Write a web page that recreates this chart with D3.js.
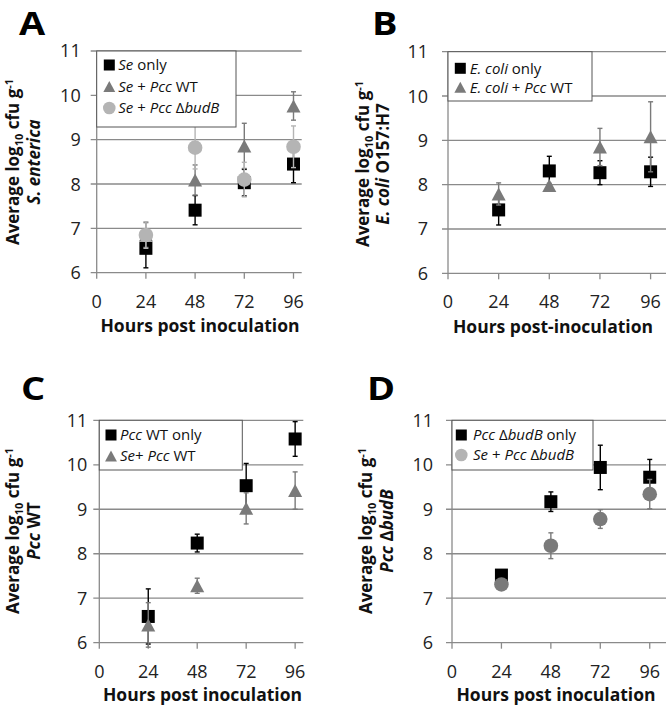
<!DOCTYPE html>
<html><head><meta charset="utf-8">
<script src="https://cdn.jsdelivr.net/npm/d3@7"></script>
<style>body{margin:0;background:#fff} svg{display:block} text{font-family:'Open Sans',sans-serif}</style>
</head><body><svg id="c" width="666" height="710"></svg>
<script>
// ---------- data ----------
const hours = [24, 48, 72, 96];
const xTicks = [0, 24, 48, 72, 96];
const yTicks = [6, 7, 8, 9, 10, 11];

// Panel A – S. enterica
const aSeOnly = [6.55, 7.41, 8.03, 8.45];
const aSeOnlyErr = [0.44, 0.33, 0.30, 0.42];
const aSePccWT = [6.85, 8.09, 8.86, 9.76];
const aSePccWTErr = [0.28, 0.34, 0.51, 0.32];
const aSePccBudB = [6.85, 8.82, 8.10, 8.84];
const aSePccBudBErr = [0.30, 0.48, 0.39, 0.47];
// Panel B – E. coli O157:H7
const bEcoliOnly = [7.43, 8.31, 8.27, 8.29];
const bEcoliOnlyErr = [0.34, 0.33, 0.27, 0.33];
const bEcoliPccWT = [7.79, 7.98, 8.85, 9.08];
const bEcoliPccWTErr = [0.25, 0.05, 0.42, 0.79];
// Panel C – Pcc WT
const cPccWTOnly = [6.59, 8.24, 9.53, 10.58];
const cPccWTOnlyErr = [0.62, 0.20, 0.50, 0.39];
const cSePccWT = [6.40, 7.28, 9.02, 9.42];
const cSePccWTErr = [0.50, 0.17, 0.35, 0.42];
// Panel D – Pcc ΔbudB
const dPccBudBOnly = [7.52, 9.17, 9.94, 9.72];
const dPccBudBOnlyErr = [0.05, 0.22, 0.50, 0.40];
const dSePccBudB = [7.31, 8.18, 8.78, 9.34];
const dSePccBudBErr = [0.05, 0.29, 0.21, 0.33];

// labels: [text, italic]
const aLegend = [[["Se", 1], [" only", 0]], [["Se", 1], [" + ", 0], ["Pcc", 1], [" WT", 0]], [["Se", 1], [" + ", 0], ["Pcc", 1], [" Δ", 0], ["budB", 1]]];
const bLegend = [[["E. coli", 1], [" only", 0]], [["E. coli", 1], [" + ", 0], ["Pcc", 1], [" WT", 0]]];
const cLegend = [[["Pcc", 1], [" WT only", 0]], [["Se", 1], ["+ ", 0], ["Pcc", 1], [" WT", 0]]];
const dLegend = [[["Pcc", 1], [" Δ", 0], ["budB", 1], [" only", 0]], [["Se", 1], [" + ", 0], ["Pcc", 1], [" Δ", 0], ["budB", 1]]];
const aYSub = [["S. enterica", 1]];
const bYSub = [["E. coli", 1], [" O157:H7", 0]];
const cYSub = [["Pcc", 1], [" WT", 0]];
const dYSub = [["Pcc", 1], [" Δ", 0], ["budB", 1]];

// ---------- style ----------
const BLACK = "#000", DARK = "#7a7a7a", LIGHT = "#b4b4b4", GRID = "#8a8a8a";

const panels = [
  {letter: "A", lx: 19, ly: 35, left: 96.7, xmax: 100, right: 301.7, top: 51, bottom: 272.7, tickOff: 16,
   yTitleX: 19, yTitle2X: 40, yTitleY: 162, xTitle: "Hours post inoculation", xTitleX: 200, xTitleY: 332,
   legend: {x: 96.7, y: 51, w: 139.3, h: 76, mx: 109.3, tx: 118.3, rows: [65, 86.5, 108], items: aLegend, marks: [["sq", BLACK], ["tri", DARK], ["circ", LIGHT]]},
   ysub: aYSub,
   series: [{v: aSeOnly, e: aSeOnlyErr, m: "sq", c: BLACK}, {v: aSePccWT, e: aSePccWTErr, m: "tri", c: DARK}, {v: aSePccBudB, e: aSePccBudBErr, m: "circ", c: LIGHT}]},
  {letter: "B", lx: 372, ly: 35, left: 448, xmax: 103.3, right: 666, top: 51.7, bottom: 273.3, tickOff: 20,
   yTitleX: 369, yTitle2X: 389, yTitleY: 164, xTitle: "Hours post-inoculation", xTitleX: 553, xTitleY: 333,
   legend: {x: 448, y: 51.7, w: 144, h: 49.3, mx: 460.3, tx: 469.7, rows: [68.3, 87.3], items: bLegend, marks: [["sq", BLACK], ["tri", DARK]]},
   ysub: bYSub,
   series: [{v: bEcoliOnly, e: bEcoliOnlyErr, m: "sq", c: BLACK}, {v: bEcoliPccWT, e: bEcoliPccWTErr, m: "tri", c: DARK}]},
  {letter: "C", lx: 21, ly: 400, left: 99.3, xmax: 100, right: 303.3, top: 420.3, bottom: 642.7, tickOff: 12,
   yTitleX: 19, yTitle2X: 40, yTitleY: 531, xTitle: "Hours post inoculation", xTitleX: 202.5, xTitleY: 701,
   legend: {x: 99.3, y: 420.3, w: 143, h: 49.7, mx: 111, tx: 120, rows: [435, 456], items: cLegend, marks: [["sq", BLACK], ["tri", DARK]]},
   ysub: cYSub,
   series: [{v: cPccWTOnly, e: cPccWTOnlyErr, m: "sq", c: BLACK}, {v: cSePccWT, e: cSePccWTErr, m: "tri", c: DARK}]},
  {letter: "D", lx: 367, ly: 400, left: 452, xmax: 103.9, right: 666, top: 420.3, bottom: 642.7, tickOff: 19,
   yTitleX: 372, yTitle2X: 393, yTitleY: 531, xTitle: "Hours post inoculation", xTitleX: 556, xTitleY: 701,
   legend: {x: 452, y: 420.3, w: 141, h: 49.7, mx: 461.3, tx: 473, rows: [435, 455], items: dLegend, marks: [["sq", BLACK], ["circ", LIGHT]]},
   ysub: dYSub,
   series: [{v: dPccBudBOnly, e: dPccBudBOnlyErr, m: "sq", c: BLACK}, {v: dSePccBudB, e: dSePccBudBErr, m: "circ", c: DARK}]}
];

const svg = d3.select("#c");

function marker(g, type, cx, cy, size, color) {
  if (type === "sq") {
    g.append("rect").attr("x", cx - size / 2).attr("y", cy - size / 2).attr("width", size).attr("height", size).attr("fill", color);
  } else if (type === "tri") {
    const w = size * 1.08, h = size;
    g.append("path").attr("d", `M${cx},${cy - h / 2}L${cx + w / 2},${cy + h / 2}L${cx - w / 2},${cy + h / 2}Z`).attr("fill", color);
  } else {
    g.append("circle").attr("cx", cx).attr("cy", cy).attr("r", size / 2 + 0.8).attr("fill", color);
  }
}

function richText(t, parts) {
  parts.forEach(([s, it]) => t.append("tspan").text(s).attr("font-style", it ? "italic" : "normal"));
}

panels.forEach(p => {
  const g = svg.append("g");
  const x = d3.scaleLinear().domain([0, p.xmax]).range([p.left, p.right]);
  const y = d3.scaleLinear().domain([6, 11]).range([p.bottom, p.top]);

  // gridlines + y ticks
  g.append("g").selectAll("line").data(yTicks).join("line")
    .attr("x1", p.left - 6).attr("x2", p.right).attr("y1", d => y(d)).attr("y2", d => y(d))
    .attr("stroke", GRID).attr("stroke-width", 1.3);
  // y axis line
  g.append("line").attr("x1", p.left).attr("x2", p.left).attr("y1", p.top).attr("y2", p.bottom)
    .attr("stroke", GRID).attr("stroke-width", 1.3);
  // x ticks
  g.append("g").selectAll("line").data(xTicks).join("line")
    .attr("x1", d => x(d)).attr("x2", d => x(d)).attr("y1", p.bottom).attr("y2", p.bottom + 6)
    .attr("stroke", GRID).attr("stroke-width", 1.3);
  // y tick labels
  g.append("g").selectAll("text").data(yTicks).join("text")
    .attr("x", p.left - p.tickOff).attr("y", d => y(d)).attr("dy", "0.36em")
    .attr("text-anchor", "end").attr("font-size", 18).attr("fill", "#222").text(d => d);
  // x tick labels
  g.append("g").selectAll("text").data(xTicks).join("text")
    .attr("x", d => x(d)).attr("y", p.bottom + 35)
    .attr("text-anchor", "middle").attr("font-size", 18).attr("fill", "#222").text(d => d);
  // x title
  g.append("text").attr("x", p.xTitleX).attr("y", p.xTitleY).attr("text-anchor", "middle")
    .attr("font-size", 17.5).attr("font-weight", "bold").attr("fill", "#111").text(p.xTitle);
  // y title
  const yt = g.append("text").attr("transform", `translate(${p.yTitleX},${p.yTitleY}) rotate(-90)`)
    .attr("text-anchor", "middle").attr("font-size", 17).attr("font-weight", "bold").attr("fill", "#111");
  yt.append("tspan").text("Average log");
  yt.append("tspan").text("10").attr("font-size", 11).attr("dy", 4);
  yt.append("tspan").text(" cfu g").attr("dy", -4);
  yt.append("tspan").text("-1").attr("font-size", 11).attr("dy", -6);
  const yt2 = g.append("text").attr("transform", `translate(${p.yTitle2X},${p.yTitleY}) rotate(-90)`)
    .attr("text-anchor", "middle").attr("font-size", 17).attr("font-weight", "bold").attr("fill", "#111");
  richText(yt2, p.ysub);
  // panel letter
  g.append("text").attr("transform", `translate(${p.lx},${p.ly}) scale(1.15,1)`)
    .attr("font-size", 33).attr("font-weight", "bold").attr("fill", "#000").text(p.letter);

  // series
  p.series.forEach(s => {
    const sg = g.append("g");
    hours.forEach((h, i) => {
      const cx = x(h), v = s.v[i], e = s.e[i];
      sg.append("line").attr("x1", cx).attr("x2", cx).attr("y1", y(v - e)).attr("y2", y(v + e)).attr("stroke", s.c).attr("stroke-width", 1.4);
      [v - e, v + e].forEach(w => sg.append("line").attr("x1", cx - 2.5).attr("x2", cx + 2.5).attr("y1", y(w)).attr("y2", y(w)).attr("stroke", s.c).attr("stroke-width", 1.4));
    });
    hours.forEach((h, i) => marker(sg, s.m, x(h), y(s.v[i]), 13, s.c));
  });

  // legend
  const L = p.legend;
  const lg = g.append("g");
  lg.append("rect").attr("x", L.x).attr("y", L.y).attr("width", L.w).attr("height", L.h)
    .attr("fill", "#fff").attr("stroke", "#555").attr("stroke-width", 1);
  L.items.forEach((it, i) => {
    marker(lg, L.marks[i][0], L.mx, L.rows[i], 11, L.marks[i][1]);
    const t = lg.append("text").attr("x", L.tx).attr("y", L.rows[i]).attr("dy", "0.36em")
      .attr("font-size", 15).attr("fill", "#111");
    richText(t, it);
  });
});
</script></body></html>
